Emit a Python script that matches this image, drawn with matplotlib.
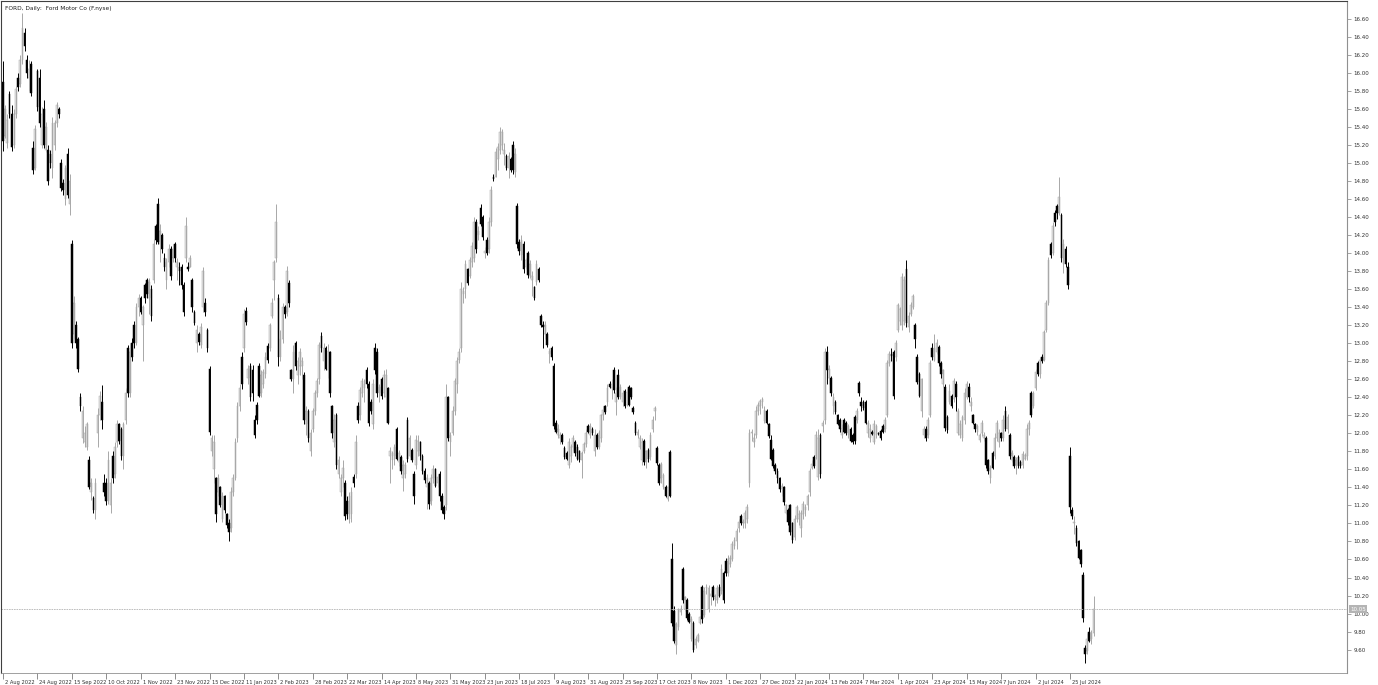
import matplotlib
matplotlib.use("Agg")
import matplotlib.pyplot as plt
import matplotlib.transforms as mtransforms
import numpy as np

# date labels, one every 16 daily bars
date_labels = ["2 Aug 2022", "24 Aug 2022", "15 Sep 2022", "10 Oct 2022", "1 Nov 2022", "23 Nov 2022",
               "15 Dec 2022", "11 Jan 2023", "2 Feb 2023", "28 Feb 2023", "22 Mar 2023", "14 Apr 2023",
               "8 May 2023", "31 May 2023", "23 Jun 2023", "18 Jul 2023", "9 Aug 2023", "31 Aug 2023",
               "25 Sep 2023", "17 Oct 2023", "8 Nov 2023", "1 Dec 2023", "27 Dec 2023", "22 Jan 2024",
               "13 Feb 2024", "7 Mar 2024", "1 Apr 2024", "23 Apr 2024", "15 May 2024", "7 Jun 2024",
               "2 Jul 2024", "25 Jul 2024"]

opens = [
    15.90, 15.30, 15.22, 15.77, 15.55, 15.20, 15.55, 15.95, 15.88, 16.15, 16.45, 16.15, 15.95, 16.10, 15.17, 14.95,
    16.02, 15.95, 15.20, 15.60, 15.15, 15.15, 15.10, 14.95, 15.20, 15.45, 15.60, 15.00, 14.78, 14.60, 15.10, 14.55,
    14.10, 13.10, 13.20, 13.05, 12.40, 11.95, 11.90, 11.85, 11.70, 11.35, 11.28, 11.15, 12.00, 12.20, 12.35, 11.45,
    11.45, 11.25, 11.20, 11.75, 11.55, 11.90, 12.10, 12.05, 11.75, 12.15, 12.95, 12.45, 13.00, 13.20, 13.00, 13.40,
    13.50, 13.20, 13.65, 13.70, 13.50, 13.60, 13.70, 14.30, 14.55, 14.10, 14.20, 13.95, 13.70, 13.90, 14.05, 13.95,
    14.10, 13.85, 13.85, 13.85, 13.65, 13.95, 13.85, 13.85, 13.70, 13.35, 13.00, 13.10, 12.98, 13.40, 13.45, 13.15,
    12.72, 11.80, 11.60, 11.50, 11.35, 11.40, 11.05, 11.30, 11.10, 11.00, 10.95, 11.35, 11.50, 11.95, 12.30, 12.85,
    12.95, 13.36, 12.62, 12.75, 12.70, 12.15, 12.32, 12.75, 12.45, 12.55, 12.66, 12.97, 12.95, 13.30, 13.70, 13.95,
    13.50, 12.85, 13.05, 13.40, 13.35, 13.67, 12.70, 12.60, 13.00, 12.65, 12.75, 12.75, 12.65, 12.10, 12.25, 11.80,
    12.05, 12.25, 12.45, 12.60, 13.08, 12.80, 12.95, 12.70, 12.90, 12.30, 11.90, 12.20, 11.55, 11.35, 11.50, 11.45,
    11.25, 11.05, 11.10, 11.52, 11.55, 12.30, 12.20, 12.45, 12.50, 12.70, 12.55, 12.35, 12.10, 12.95, 12.90, 12.45,
    12.60, 12.45, 12.40, 12.50, 11.75, 11.70, 11.75, 12.05, 11.68, 11.74, 11.50, 11.55, 12.15, 11.75, 11.82, 11.55,
    11.65, 11.80, 11.90, 11.75, 11.58, 11.40, 11.45, 11.25, 11.50, 11.60, 11.45, 11.55, 11.30, 11.18, 11.20, 12.40,
    11.90, 12.00, 12.25, 12.55, 12.82, 12.95, 13.55, 13.60, 13.82, 13.75, 13.90, 13.95, 14.35, 14.20, 14.50, 14.40,
    14.00, 14.15, 14.05, 14.35, 14.85, 14.85, 15.05, 15.15, 15.20, 15.10, 15.08, 14.95, 15.05, 15.20, 14.90, 14.52,
    14.12, 13.98, 14.10, 13.85, 14.00, 13.75, 13.70, 13.62, 13.68, 13.82, 13.30, 13.20, 13.10, 13.10, 12.88, 12.95,
    12.75, 12.12, 11.98, 11.95, 11.98, 11.84, 11.78, 11.65, 11.75, 11.85, 11.90, 11.85, 11.80, 11.70, 11.80, 11.88,
    12.08, 11.98, 12.05, 11.80, 11.98, 11.85, 11.95, 12.20, 12.30, 12.35, 12.55, 12.50, 12.70, 12.35, 12.65, 12.40,
    12.35, 12.47, 12.32, 12.52, 12.50, 12.28, 12.12, 11.98, 11.85, 11.70, 11.92, 11.68, 11.82, 11.74, 12.05, 12.25,
    11.84, 11.65, 11.50, 11.40, 11.40, 11.27, 11.79, 10.61, 10.03, 9.65, 9.85, 10.02, 10.49, 10.05, 10.15, 10.00,
    9.72, 9.90, 9.65, 9.70, 9.90, 10.29, 9.98, 10.28, 10.05, 10.20, 10.30, 10.16, 10.15, 10.30, 10.25, 10.45,
    10.58, 10.45, 10.55, 10.60, 10.75, 10.80, 10.95, 11.08, 11.00, 11.00, 11.05, 11.45, 12.00, 11.90, 11.98, 12.25,
    12.30, 12.35, 12.14, 12.25, 12.10, 11.93, 11.82, 11.65, 11.58, 11.50, 11.38, 11.40, 11.12, 11.15, 11.20, 11.00,
    10.85, 11.05, 11.05, 10.95, 11.10, 11.15, 11.20, 11.35, 11.62, 11.74, 11.75, 11.52, 11.98, 12.08, 12.15, 12.90,
    12.62, 12.62, 12.30, 12.35, 12.20, 12.15, 11.98, 12.15, 12.12, 11.98, 12.05, 11.98, 12.18, 12.15, 12.56, 12.35,
    12.35, 12.35, 12.00, 11.95, 12.02, 11.90, 11.98, 12.00, 12.03, 12.08, 12.05, 12.20, 12.78, 12.88, 12.90, 12.85,
    13.15, 13.25, 13.20, 13.25, 13.82, 13.18, 13.33, 13.40, 13.20, 12.85, 12.66, 12.25, 11.98, 12.05, 11.98, 12.20,
    12.95, 12.82, 12.90, 12.96, 12.78, 12.55, 12.51, 12.18, 12.35, 12.42, 12.38, 12.55, 12.00, 11.98, 11.95, 12.15,
    12.40, 12.52, 12.30, 12.20, 12.10, 12.02, 11.93, 12.00, 11.95, 11.95, 11.70, 11.50, 11.78, 11.75, 11.95, 11.90,
    12.00, 11.95, 12.25, 12.05, 11.98, 11.70, 11.74, 11.65, 11.74, 11.68, 11.65, 11.72, 11.75, 12.05, 12.45, 12.30,
    12.50, 12.78, 12.66, 12.85, 12.82, 13.15, 13.45, 14.10, 14.00, 14.45, 14.52, 14.45, 14.42, 13.88, 14.05, 13.85,
    11.75, 11.15, 11.00, 10.95, 10.80, 10.70, 10.43, 9.62, 9.58, 9.80, 9.72, 9.78,
]

highs = [
    16.13, 15.65, 15.55, 15.80, 15.65, 15.60, 15.86, 16.00, 16.20, 16.67, 16.50, 16.20, 16.15, 16.13, 15.25, 15.42,
    16.05, 16.04, 15.62, 15.70, 15.46, 15.20, 15.15, 15.51, 15.48, 15.68, 15.62, 15.05, 14.82, 14.98, 15.17, 14.88,
    14.15, 13.53, 13.25, 13.07, 12.45, 12.30, 12.08, 12.13, 11.75, 11.50, 11.30, 11.50, 12.28, 12.47, 12.54, 11.55,
    11.50, 11.80, 11.50, 11.80, 11.90, 12.15, 12.12, 12.07, 12.13, 12.50, 12.98, 13.00, 13.06, 13.25, 13.45, 13.55,
    13.52, 13.43, 13.67, 13.72, 13.72, 13.65, 14.16, 14.32, 14.61, 14.32, 14.22, 14.00, 13.95, 14.10, 14.08, 14.10,
    14.12, 13.95, 13.90, 13.88, 13.68, 14.40, 13.90, 13.98, 13.72, 13.37, 13.20, 13.12, 13.22, 13.85, 13.50, 13.17,
    12.75, 11.98, 11.98, 11.52, 11.55, 11.42, 11.35, 11.32, 11.12, 11.05, 11.40, 11.55, 11.95, 12.35, 12.55, 12.90,
    13.38, 13.40, 12.76, 12.78, 12.76, 12.20, 12.35, 12.78, 12.70, 12.72, 12.90, 13.00, 13.22, 13.50, 13.93, 14.55,
    13.55, 13.15, 13.45, 13.42, 13.86, 13.70, 12.72, 12.98, 13.03, 12.85, 12.95, 12.85, 12.68, 12.30, 12.27, 12.05,
    12.28, 12.48, 12.62, 13.02, 13.12, 13.00, 12.97, 12.99, 12.92, 12.32, 12.22, 12.23, 11.75, 11.55, 11.70, 11.48,
    11.30, 11.35, 11.40, 11.55, 11.98, 12.35, 12.52, 12.62, 12.60, 12.74, 12.58, 12.38, 12.60, 13.00, 12.95, 12.55,
    12.63, 12.70, 12.71, 12.52, 11.85, 11.80, 11.88, 12.07, 11.82, 11.76, 11.70, 11.68, 12.18, 11.98, 11.84, 11.58,
    11.98, 11.98, 11.92, 11.77, 11.62, 11.55, 11.47, 11.55, 11.65, 11.62, 11.55, 11.58, 11.34, 11.20, 12.55, 12.42,
    12.02, 12.30, 12.62, 12.85, 12.95, 13.68, 13.62, 13.92, 13.84, 13.96, 14.12, 14.40, 14.38, 14.30, 14.55, 14.42,
    14.07, 14.18, 14.40, 14.75, 14.88, 15.17, 15.22, 15.40, 15.38, 15.22, 15.10, 15.12, 15.07, 15.25, 15.17, 14.56,
    14.16, 14.20, 14.14, 13.95, 14.03, 13.92, 13.80, 13.64, 13.92, 13.85, 13.32, 13.25, 13.25, 13.12, 12.95, 12.97,
    12.78, 12.15, 12.10, 12.02, 12.00, 11.86, 11.80, 11.95, 11.88, 11.98, 11.93, 11.88, 11.82, 11.80, 11.90, 12.05,
    12.10, 12.12, 12.07, 12.05, 12.00, 12.04, 12.22, 12.30, 12.32, 12.55, 12.58, 12.60, 12.74, 12.52, 12.71, 12.55,
    12.48, 12.49, 12.50, 12.54, 12.52, 12.30, 12.14, 12.05, 11.98, 11.95, 11.94, 11.82, 11.84, 12.02, 12.19, 12.30,
    11.86, 11.67, 11.68, 11.56, 11.43, 11.42, 11.82, 10.78, 10.08, 9.91, 10.06, 10.10, 10.52, 10.20, 10.17, 10.02,
    9.97, 9.92, 9.75, 9.78, 9.97, 10.32, 10.30, 10.33, 10.32, 10.26, 10.32, 10.22, 10.32, 10.33, 10.55, 10.47,
    10.62, 10.65, 10.65, 10.80, 10.85, 10.95, 11.05, 11.10, 11.05, 11.15, 11.22, 12.05, 12.05, 12.00, 12.30, 12.35,
    12.38, 12.40, 12.30, 12.27, 12.12, 11.98, 11.84, 11.67, 11.62, 11.52, 11.45, 11.42, 11.22, 11.17, 11.22, 11.02,
    11.09, 11.20, 11.15, 11.15, 11.25, 11.22, 11.33, 11.62, 11.70, 11.76, 12.03, 12.05, 12.00, 12.15, 12.95, 12.97,
    12.76, 12.64, 12.45, 12.37, 12.22, 12.17, 12.10, 12.17, 12.14, 12.10, 12.07, 12.00, 12.20, 12.28, 12.58, 12.40,
    12.37, 12.37, 12.15, 12.10, 12.04, 12.15, 12.10, 12.02, 12.05, 12.10, 12.18, 12.82, 12.92, 12.95, 12.93, 13.04,
    13.45, 13.40, 13.78, 13.75, 13.92, 13.35, 13.46, 13.55, 13.22, 12.88, 12.68, 12.62, 12.08, 12.08, 12.18, 12.81,
    13.00, 13.10, 13.05, 12.98, 12.80, 12.72, 12.55, 12.20, 12.55, 12.44, 12.62, 12.58, 12.28, 12.15, 12.20, 12.50,
    12.58, 12.56, 12.40, 12.22, 12.12, 12.10, 12.00, 12.15, 12.02, 11.97, 11.72, 11.65, 11.80, 12.00, 12.15, 12.05,
    12.02, 12.20, 12.30, 12.22, 12.00, 11.82, 11.76, 11.74, 11.76, 11.70, 11.80, 11.78, 12.10, 12.15, 12.47, 12.47,
    12.72, 12.80, 12.85, 12.88, 13.15, 13.48, 13.96, 14.12, 14.35, 14.48, 14.55, 14.85, 14.45, 14.16, 14.08, 13.90,
    11.85, 11.18, 11.08, 10.98, 10.82, 10.72, 10.46, 9.65, 9.78, 9.85, 9.82, 10.20,
]

lows = [
    15.14, 15.28, 15.17, 15.50, 15.14, 15.17, 15.50, 15.80, 15.85, 16.10, 16.25, 15.95, 15.80, 15.75, 14.88, 14.92,
    15.58, 15.40, 15.17, 15.17, 15.12, 14.76, 14.95, 14.83, 15.15, 15.40, 15.50, 14.69, 14.65, 14.54, 14.61, 14.42,
    12.95, 13.05, 12.95, 12.68, 12.25, 11.89, 11.85, 11.82, 11.38, 11.26, 11.12, 11.05, 11.85, 12.15, 12.05, 11.30,
    11.20, 11.22, 11.12, 11.45, 11.50, 11.85, 11.88, 11.70, 11.60, 12.10, 12.40, 12.40, 12.80, 12.95, 12.98, 13.30,
    13.32, 12.80, 13.45, 13.50, 13.33, 13.25, 13.67, 14.10, 14.10, 13.90, 14.00, 13.80, 13.60, 13.85, 13.70, 13.90,
    13.90, 13.70, 13.65, 13.60, 13.30, 13.90, 13.80, 13.85, 13.35, 13.20, 12.90, 12.98, 12.95, 13.35, 13.30, 12.90,
    11.98, 11.75, 11.45, 11.02, 11.30, 11.18, 11.02, 11.12, 10.95, 10.81, 10.90, 11.30, 11.48, 11.90, 12.25, 12.49,
    12.90, 13.20, 12.55, 12.36, 12.36, 11.95, 12.10, 12.40, 12.40, 12.50, 12.62, 12.78, 12.92, 13.28, 13.48, 13.90,
    12.75, 12.80, 13.00, 13.28, 13.30, 13.40, 12.58, 12.45, 12.70, 12.55, 12.65, 12.60, 12.10, 11.98, 11.90, 11.75,
    12.02, 12.20, 12.40, 12.55, 12.90, 12.70, 12.70, 12.62, 12.40, 11.95, 11.85, 11.60, 11.50, 11.30, 11.40, 11.04,
    11.05, 11.00, 11.02, 11.40, 11.50, 12.12, 12.15, 12.40, 12.35, 12.50, 12.08, 12.22, 12.05, 12.66, 12.40, 12.35,
    12.38, 12.40, 12.13, 12.10, 11.45, 11.60, 11.65, 11.70, 11.64, 11.55, 11.36, 11.50, 11.68, 11.74, 11.68, 11.22,
    11.60, 11.75, 11.70, 11.55, 11.45, 11.16, 11.16, 11.20, 11.45, 11.40, 11.40, 11.25, 11.12, 11.05, 11.15, 11.92,
    11.75, 11.98, 12.20, 12.45, 12.78, 12.90, 13.45, 13.50, 13.65, 13.72, 13.85, 13.90, 14.00, 14.15, 14.30, 14.15,
    13.95, 13.98, 14.00, 14.30, 14.80, 14.85, 14.92, 15.10, 15.15, 14.98, 14.92, 14.84, 14.90, 14.88, 14.85, 14.06,
    13.98, 13.92, 13.78, 13.82, 13.73, 13.72, 13.52, 13.48, 13.65, 13.68, 13.18, 12.95, 13.05, 12.96, 12.78, 12.82,
    12.05, 12.00, 11.95, 11.88, 11.88, 11.72, 11.70, 11.62, 11.68, 11.80, 11.75, 11.70, 11.68, 11.50, 11.78, 11.85,
    12.00, 11.95, 11.98, 11.75, 11.83, 11.83, 11.90, 12.15, 12.22, 12.30, 12.50, 12.38, 12.45, 12.20, 12.38, 12.38,
    12.30, 12.28, 12.30, 12.30, 12.38, 12.22, 11.98, 11.95, 11.83, 11.65, 11.65, 11.62, 11.68, 11.70, 12.02, 12.15,
    11.65, 11.43, 11.45, 11.38, 11.29, 11.25, 11.29, 9.86, 9.67, 9.55, 9.82, 9.98, 10.12, 10.03, 9.93, 9.89,
    9.69, 9.57, 9.62, 9.68, 9.88, 9.90, 9.96, 10.22, 10.02, 10.10, 10.15, 10.08, 10.12, 10.18, 10.22, 10.12,
    10.42, 10.42, 10.52, 10.58, 10.72, 10.72, 10.90, 10.98, 10.95, 10.95, 11.00, 11.40, 11.92, 11.85, 11.95, 12.20,
    12.22, 12.28, 12.12, 12.10, 11.95, 11.70, 11.62, 11.55, 11.45, 11.35, 11.30, 11.20, 11.10, 10.98, 10.87, 10.78,
    10.82, 11.02, 10.98, 10.85, 11.05, 11.08, 11.15, 11.30, 11.60, 11.62, 11.72, 11.48, 11.50, 12.02, 12.10, 12.55,
    12.55, 12.42, 12.22, 12.22, 12.09, 12.02, 11.95, 12.00, 11.98, 11.95, 11.90, 11.88, 11.88, 12.12, 12.42, 12.25,
    12.26, 12.10, 11.96, 11.90, 11.98, 11.88, 11.95, 11.98, 11.93, 12.00, 12.02, 12.18, 12.75, 12.80, 12.38, 12.80,
    13.12, 13.20, 13.15, 13.20, 13.18, 13.12, 13.30, 13.38, 12.95, 12.55, 12.40, 12.18, 11.95, 11.92, 11.95, 12.18,
    12.82, 12.80, 12.88, 12.75, 12.62, 12.52, 12.03, 12.00, 12.33, 12.28, 12.35, 12.25, 11.98, 11.95, 11.92, 12.10,
    12.38, 12.35, 12.25, 12.10, 12.02, 11.98, 11.90, 11.97, 11.92, 11.62, 11.55, 11.45, 11.60, 11.72, 11.92, 11.85,
    11.92, 11.92, 12.03, 12.00, 11.72, 11.68, 11.62, 11.55, 11.62, 11.62, 11.62, 11.70, 11.70, 11.98, 12.18, 12.28,
    12.48, 12.64, 12.62, 12.78, 12.80, 13.12, 13.42, 13.95, 13.98, 14.30, 14.38, 14.42, 13.90, 13.78, 13.85, 13.60,
    11.12, 11.05, 10.88, 10.75, 10.60, 10.52, 9.91, 9.45, 9.55, 9.68, 9.66, 9.75,
]

closes = [
    15.25, 15.60, 15.48, 15.55, 15.18, 15.55, 15.82, 15.85, 16.15, 16.50, 16.30, 16.00, 16.05, 15.78, 14.92, 15.38,
    15.62, 15.45, 15.55, 15.20, 15.40, 14.80, 15.00, 15.45, 15.45, 15.65, 15.55, 14.72, 14.70, 14.95, 14.65, 14.80,
    13.00, 13.45, 13.00, 12.72, 12.30, 12.25, 12.00, 12.10, 11.40, 11.45, 11.15, 11.45, 12.20, 12.42, 12.15, 11.35,
    11.25, 11.70, 11.45, 11.50, 11.85, 12.10, 11.92, 11.75, 12.10, 12.45, 12.45, 12.90, 12.85, 13.00, 13.40, 13.50,
    13.35, 13.40, 13.50, 13.55, 13.68, 13.30, 14.10, 14.15, 14.12, 14.25, 14.05, 13.85, 13.90, 14.05, 13.75, 14.05,
    13.95, 13.90, 13.80, 13.65, 13.35, 14.30, 13.82, 13.95, 13.40, 13.22, 13.15, 13.02, 13.18, 13.80, 13.35, 12.95,
    12.02, 11.95, 11.90, 11.10, 11.50, 11.20, 11.30, 11.15, 10.98, 10.90, 11.35, 11.50, 11.90, 12.30, 12.50, 12.55,
    13.32, 13.24, 12.72, 12.40, 12.45, 11.98, 12.15, 12.42, 12.65, 12.68, 12.85, 12.82, 13.20, 13.45, 13.90, 14.35,
    12.85, 13.05, 13.40, 13.32, 13.80, 13.45, 12.60, 12.90, 12.75, 12.80, 12.90, 12.80, 12.15, 12.25, 11.95, 12.00,
    12.25, 12.45, 12.58, 12.98, 12.95, 12.95, 12.72, 12.92, 12.45, 12.00, 12.15, 11.65, 11.70, 11.50, 11.62, 11.08,
    11.10, 11.30, 11.35, 11.45, 11.90, 12.15, 12.48, 12.58, 12.55, 12.55, 12.12, 12.25, 12.55, 12.70, 12.45, 12.52,
    12.42, 12.65, 12.65, 12.12, 11.80, 11.78, 11.85, 11.72, 11.78, 11.58, 11.65, 11.65, 11.72, 11.95, 11.70, 11.30,
    11.93, 11.92, 11.75, 11.58, 11.48, 11.50, 11.22, 11.50, 11.60, 11.42, 11.52, 11.30, 11.15, 11.10, 12.40, 11.95,
    11.98, 12.25, 12.58, 12.80, 12.90, 13.60, 13.58, 13.88, 13.67, 13.92, 14.08, 14.35, 14.05, 14.25, 14.32, 14.18,
    14.02, 14.00, 14.35, 14.70, 14.82, 15.12, 15.18, 15.35, 15.35, 15.15, 14.95, 15.08, 14.92, 14.92, 15.10, 14.10,
    14.02, 14.15, 13.82, 13.92, 13.76, 13.88, 13.75, 13.50, 13.88, 13.70, 13.20, 13.18, 13.20, 12.98, 12.92, 12.85,
    12.08, 12.02, 12.05, 11.98, 11.90, 11.74, 11.72, 11.90, 11.85, 11.95, 11.78, 11.72, 11.70, 11.78, 11.88, 12.00,
    12.02, 12.08, 12.00, 11.98, 11.85, 12.00, 12.20, 12.26, 12.24, 12.50, 12.52, 12.55, 12.48, 12.45, 12.40, 12.52,
    12.45, 12.30, 12.46, 12.32, 12.40, 12.24, 12.00, 12.02, 11.95, 11.90, 11.68, 11.80, 11.72, 11.98, 12.15, 12.28,
    11.67, 11.45, 11.66, 11.54, 11.31, 11.40, 11.31, 9.90, 9.70, 9.88, 10.04, 10.05, 10.15, 10.18, 9.95, 9.91,
    9.94, 9.60, 9.72, 9.76, 9.96, 9.94, 10.25, 10.30, 10.28, 10.22, 10.18, 10.20, 10.28, 10.20, 10.50, 10.15,
    10.45, 10.60, 10.62, 10.77, 10.82, 10.92, 11.02, 11.00, 11.02, 11.12, 11.18, 12.00, 12.02, 11.95, 12.25, 12.32,
    12.36, 12.38, 12.26, 12.12, 11.97, 11.72, 11.64, 11.58, 11.50, 11.38, 11.42, 11.24, 11.20, 11.02, 10.90, 10.82,
    11.05, 11.18, 11.10, 11.12, 11.22, 11.18, 11.30, 11.58, 11.66, 11.64, 11.98, 11.95, 11.55, 12.12, 12.90, 12.70,
    12.72, 12.45, 12.40, 12.24, 12.10, 12.05, 12.05, 12.02, 12.00, 12.08, 11.92, 11.90, 11.92, 12.25, 12.45, 12.30,
    12.28, 12.12, 12.12, 12.05, 11.99, 12.10, 12.08, 11.99, 11.95, 12.02, 12.15, 12.78, 12.88, 12.86, 12.42, 13.00,
    13.42, 13.38, 13.74, 13.70, 13.22, 13.30, 13.42, 13.52, 13.05, 12.57, 12.42, 12.60, 12.05, 11.95, 12.15, 12.78,
    12.85, 12.95, 13.00, 12.78, 12.66, 12.70, 12.06, 12.04, 12.47, 12.30, 12.58, 12.40, 12.25, 12.10, 12.18, 12.45,
    12.55, 12.40, 12.35, 12.12, 12.05, 12.08, 11.98, 12.12, 11.98, 11.65, 11.58, 11.62, 11.62, 11.95, 12.12, 12.00,
    11.95, 12.15, 12.05, 12.18, 11.75, 11.78, 11.64, 11.70, 11.64, 11.64, 11.77, 11.76, 12.05, 12.12, 12.20, 12.45,
    12.68, 12.66, 12.82, 12.80, 13.12, 13.45, 13.92, 13.98, 14.30, 14.35, 14.45, 14.62, 13.95, 14.10, 13.88, 13.65,
    11.18, 11.08, 11.02, 10.78, 10.62, 10.55, 9.95, 9.55, 9.72, 9.70, 9.78, 10.05,
]

title = "FORD, Daily:  Ford Motor Co (F.nyse)"

o = np.array(opens)
h = np.array(highs)
l = np.array(lows)
c = np.array(closes)
x = np.arange(len(c))
up = c >= o

W, H = 1378, 685
fig = plt.figure(figsize=(W / 100, H / 100), dpi=100)
ax = fig.add_axes([1 / W, 12 / H, 1346 / W, 672 / H])

# wicks
ax.vlines(x[up], l[up], h[up], color="#a8a8a8", lw=0.7)
ax.vlines(x[~up], l[~up], h[~up], color="black", lw=0.7)
# bodies
body = np.maximum(np.abs(c - o), 0.01)
ax.bar(x[up], body[up], bottom=o[up], width=0.75, color="#e4e4e4",
       edgecolor="#a8a8a8", linewidth=0.35)
ax.bar(x[~up], body[~up], bottom=c[~up], width=0.75, color="black",
       edgecolor="black", linewidth=0.35)

# last price line and label
last = closes[-1]
ax.axhline(last, color="#b4b4b4", lw=0.6, ls=(0, (2, 1)))
tr = mtransforms.blended_transform_factory(ax.transAxes, ax.transData)
ax.text(1.0 + 3 / 1346, last, f"{last:.2f}", transform=tr, fontsize=4.0, color="white",
        va="center", ha="left",
        bbox=dict(boxstyle="square,pad=0.25", fc="#b4b4b4", ec="none"))

ax.set_xlim(-0.93, 624.8)
ax.set_ylim(9.34, 16.80)

# price axis on the right
yt = np.round(np.arange(9.6, 16.61, 0.2), 2)
ax.yaxis.tick_right()
ax.set_yticks(yt)
ax.set_yticklabels([f"{v:.2f}" for v in yt])
ax.tick_params(axis="y", length=3, width=0.5, color="#808080", labelsize=4.0,
               labelcolor="#303030", pad=1.5)

# date axis
xt = np.arange(0, 16 * len(date_labels), 16)
ax.set_xticks(xt)
ax.set_xticklabels(date_labels)
ax.tick_params(axis="x", length=4, width=0.5, color="#606060", labelsize=3.7,
               labelcolor="#303030", pad=0.8)
shift = mtransforms.ScaledTranslation(2 / 100, 0, fig.dpi_scale_trans)
for lab in ax.get_xticklabels():
    lab.set_ha("left")
    lab.set_transform(lab.get_transform() + shift)

for side in ["top", "left"]:
    ax.spines[side].set_color("#404040")
    ax.spines[side].set_linewidth(0.8)
ax.spines["right"].set_color("#909090")
ax.spines["right"].set_linewidth(0.8)
ax.spines["bottom"].set_color("#909090")
ax.spines["bottom"].set_linewidth(0.6)
ax.spines["bottom"].set_linestyle((0, (1, 1)))

ax.text(0.003, 0.993, title, transform=ax.transAxes, fontsize=4.2, va="top",
        ha="left", color="#202020")

fig.savefig("out.png", dpi=100)
